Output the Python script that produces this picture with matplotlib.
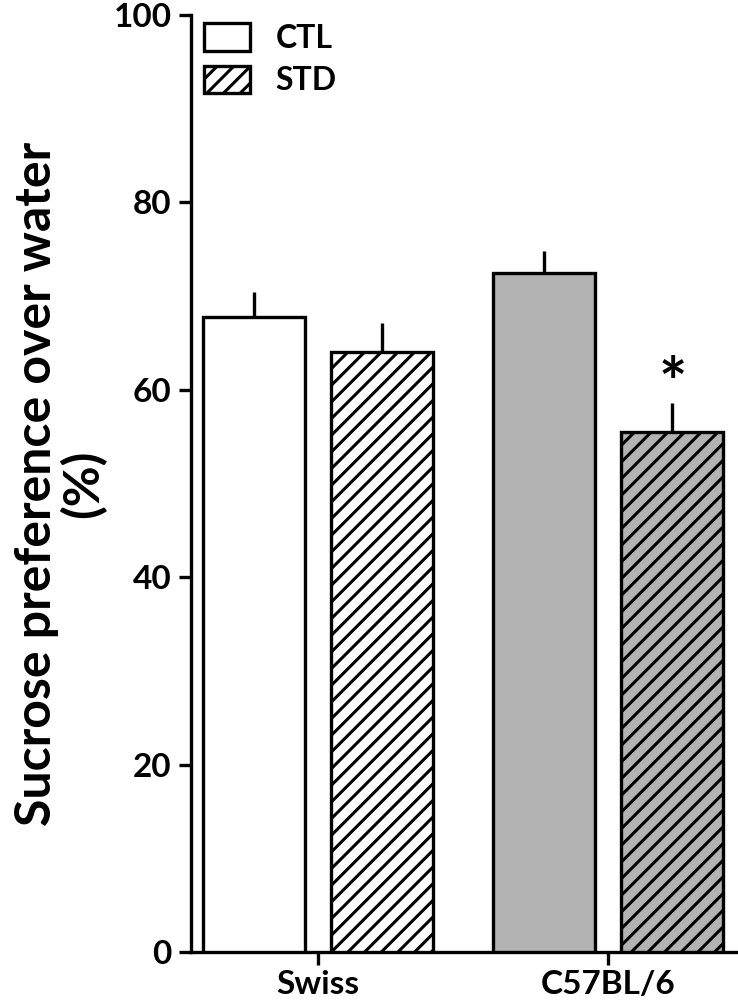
import numpy as np
import matplotlib.pyplot as plt
from matplotlib.patches import Patch

# data
strains = ["Swiss", "C57BL/6"]
ctl = [67.8, 72.5]
ctl_err = [2.6, 2.3]
std = [64.0, 55.5]
std_err = [3.1, 3.1]
ctl_colors = ["white", "#b3b3b3"]
std_colors = ["white", "#b3b3b3"]
yticks = [0, 20, 40, 60, 80, 100]

plt.rcParams['font.family'] = ['Lato', 'DejaVu Sans']
plt.rcParams['font.weight'] = 'bold'
plt.rcParams['hatch.linewidth'] = 2.2

fig = plt.figure(figsize=(7.38, 10.06), dpi=100)
ax = fig.add_axes([0.2588, 0.0537, 0.7412, 0.9314])

x = np.arange(len(strains))
w = 0.352
off = 0.2216
lw = 2.4

ax.bar(x - off, ctl, w, color=ctl_colors, edgecolor='black', linewidth=lw, zorder=3)
ax.bar(x + off, std, w, color=std_colors, edgecolor='black', linewidth=lw, hatch='//', zorder=3)
ax.errorbar(x - off, ctl, yerr=[np.zeros(2), ctl_err], fmt='none', ecolor='black',
            elinewidth=lw, capsize=0, zorder=2)
ax.errorbar(x + off, std, yerr=[np.zeros(2), std_err], fmt='none', ecolor='black',
            elinewidth=lw, capsize=0, zorder=2)

# significance marker
ax.text(x[1] + off, std[1] + std_err[1] - 1.6, '*', ha='center', va='bottom',
        fontsize=48, fontweight='bold')

ax.set_ylim(0, 100)
ax.set_xlim(-0.438, 1.448)
ax.set_yticks(yticks)
ax.set_xticks(x)
ax.set_xticklabels(strains)
ax.tick_params(axis='both', width=lw, length=9, labelsize=24, direction='out')
ax.tick_params(axis='y', pad=5)
ax.tick_params(axis='x', pad=4)
for s in ['top', 'right']:
    ax.spines[s].set_visible(False)
for s in ['left', 'bottom']:
    ax.spines[s].set_linewidth(lw)

ax.set_ylabel('Sucrose preference over water\n(%)', fontsize=36, fontweight='bold',
              labelpad=5, linespacing=1.0)

handles = [Patch(facecolor='white', edgecolor='black', linewidth=lw, label='CTL'),
           Patch(facecolor='white', edgecolor='black', linewidth=lw, hatch='//', label='STD')]
ax.legend(handles=handles, loc='upper left', bbox_to_anchor=(0.0, 1.005), frameon=False,
          fontsize=23, handlelength=1.45, handleheight=0.95, handletextpad=0.8,
          labelspacing=0.4, borderaxespad=0.2, borderpad=0.2)

fig.savefig('out.png', dpi=100)
